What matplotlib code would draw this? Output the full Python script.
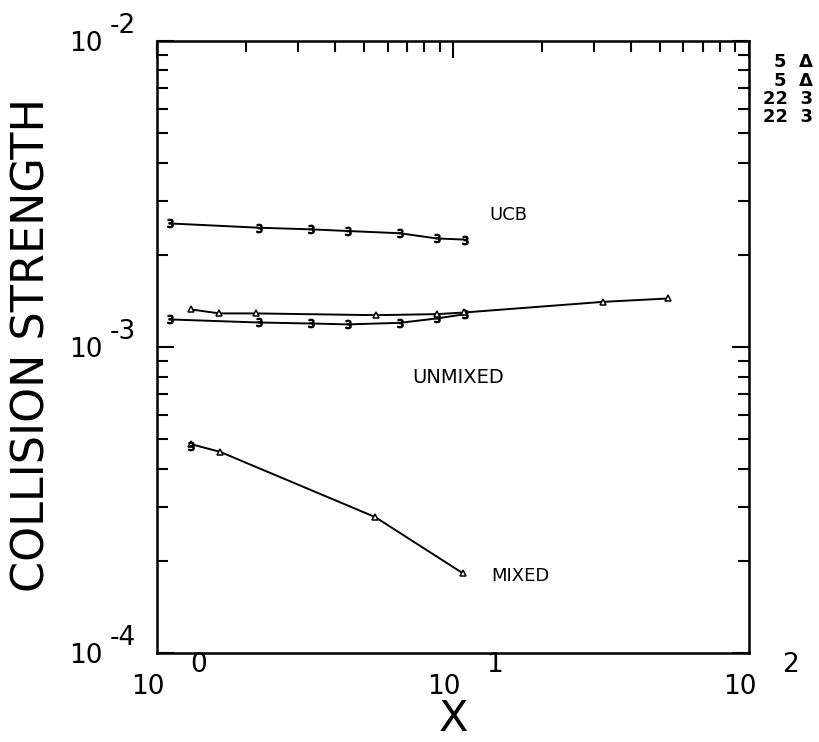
import numpy as np
import matplotlib
matplotlib.use("Agg")
import matplotlib.pyplot as plt
from matplotlib.ticker import LogLocator, NullFormatter

plt.rcParams['font.family'] = ['DejaVu Sans']

# UCB curve ("3" markers)
ucb_x = [1.10, 2.20, 3.30, 4.40, 6.60, 8.80, 11.0]
ucb_y = [2.53e-3, 2.45e-3, 2.42e-3, 2.39e-3, 2.35e-3, 2.26e-3, 2.24e-3]

# unmixed, "3" markers
unmix3_x = [1.10, 2.20, 3.30, 4.40, 6.60, 8.80, 11.0]
unmix3_y = [1.229e-3, 1.201e-3, 1.192e-3, 1.184e-3, 1.198e-3, 1.238e-3, 1.279e-3]

# unmixed, triangle markers
unmixt_x = [1.30, 1.62, 2.15, 5.48, 8.83, 10.9, 32.2, 53.4]
unmixt_y = [1.325e-3, 1.286e-3, 1.286e-3, 1.269e-3, 1.279e-3, 1.295e-3, 1.403e-3, 1.439e-3]

# mixed, triangle markers
mixt_x = [1.30, 1.63, 5.45, 10.8]
mixt_y = [4.81e-4, 4.54e-4, 2.78e-4, 1.82e-4]

# mixed, single "3" point
mix3_x = [1.30]
mix3_y = [4.74e-4]

legend_rows = ["5  \u0394", "5  \u0394", "22  3", "22  3"]

fig = plt.figure(figsize=(8.19, 7.42), dpi=100)
ax = fig.add_axes([157.3 / 819, 1 - 653 / 742, (749 - 157.3) / 819, (653 - 40.7) / 742])
ax.set_xscale('log')
ax.set_yscale('log')
ax.set_xlim(1, 100)
ax.set_ylim(1e-4, 1e-2)

lw = 1.4
ax.plot(ucb_x, ucb_y, '-', color='black', lw=lw, marker='$3$', ms=6)
ax.plot(unmix3_x, unmix3_y, '-', color='black', lw=lw, marker='$3$', ms=6)
ax.plot(unmixt_x, unmixt_y, '-', color='black', lw=lw, marker='^', ms=5,
        mfc='white', mec='black', mew=1.1)
ax.plot(mixt_x, mixt_y, '-', color='black', lw=lw, marker='^', ms=5,
        mfc='white', mec='black', mew=1.1)
ax.plot(mix3_x, mix3_y, ls='none', color='black', marker='$3$', ms=6)

for s in ax.spines.values():
    s.set_linewidth(1.8)

# ticks: inward on left, right, top; none on bottom
ax.tick_params(which='both', direction='in', bottom=False, top=True,
               left=True, right=True, labelbottom=False, labelleft=False)
ax.tick_params(which='major', length=12, width=1.5)
ax.tick_params(which='minor', length=8, width=1.5)
ax.xaxis.set_major_locator(LogLocator(base=10))
ax.xaxis.set_minor_locator(LogLocator(base=10, subs=np.arange(2, 10)))
ax.yaxis.set_major_locator(LogLocator(base=10))
ax.yaxis.set_minor_locator(LogLocator(base=10, subs=np.arange(2, 10)))
ax.xaxis.set_minor_formatter(NullFormatter())
ax.yaxis.set_minor_formatter(NullFormatter())

# plotter-style tick labels: "10" with the exponent written beside it
ytr = ax.get_yaxis_transform()
for p in [-4, -3, -2]:
    ax.text(-0.092, 10.0 ** p * 0.978, "10", transform=ytr, ha='right', va='center', fontsize=19)
    ax.text(-0.080, 10.0 ** p * 1.12, "%d" % p, transform=ytr, ha='left', va='center', fontsize=19)

xtr = ax.get_xaxis_transform()
for p in [0, 1, 2]:
    ax.text(10.0 ** p * 0.93, -0.056, "10", transform=xtr, ha='center', va='center', fontsize=19)
    ax.text(10.0 ** p * 1.38, -0.020, "%d" % p, transform=xtr, ha='center', va='center', fontsize=19)

ax.text(0.5, -0.108, "X", transform=ax.transAxes, ha='center', va='center', fontsize=31)
fig.text(32 / 819, 1 - 345 / 742, "COLLISION STRENGTH", rotation=90, ha='center',
         va='center', fontsize=32)

ax.text(13.3, 2.69e-3, "UCB", ha='left', va='center', fontsize=13)
ax.text(7.25, 7.96e-4, "UNMIXED", ha='left', va='center', fontsize=14)
ax.text(13.5, 1.78e-4, "MIXED", ha='left', va='center', fontsize=13)

for i, row in enumerate(legend_rows):
    fig.text(813 / 819, 1 - (62 + 18.5 * i) / 742, row, ha='right', va='center',
             fontsize=13, fontweight='bold')

fig.savefig("out.png", dpi=100)
